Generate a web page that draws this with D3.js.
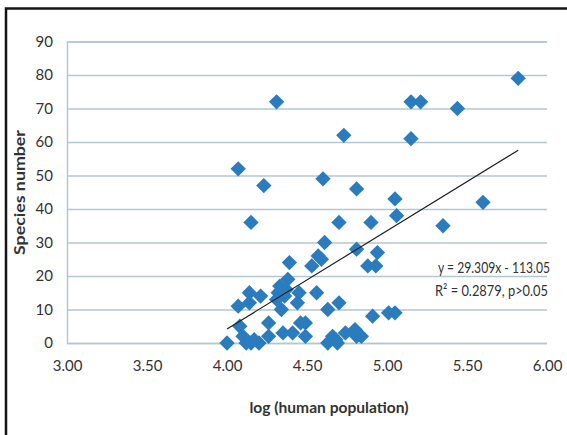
<!DOCTYPE html>
<html>
<head>
<meta charset="utf-8">
<script src="https://cdn.jsdelivr.net/npm/d3@7"></script>
<style>
  html, body { margin: 0; padding: 0; background: #fff; }
  svg { display: block; }
  text { font-family: Lato, "Open Sans", sans-serif; fill: #333; }
</style>
</head>
<body>
<svg id="chart" width="567" height="435"></svg>
<script>
// log10 of human population per site
const logPopulation = [
  4.00, 4.07, 4.07, 4.08, 4.10, 4.12, 4.15, 4.17, 4.20, 4.14,
  4.14, 4.15, 4.21, 4.23, 4.26, 4.26, 4.31, 4.32, 4.31, 4.33,
  4.34, 4.35, 4.36, 4.37, 4.38, 4.39, 4.41, 4.45, 4.44, 4.46,
  4.49, 4.49, 4.53, 4.56, 4.57, 4.59, 4.60, 4.61, 4.63, 4.63,
  4.66, 4.68, 4.69, 4.70, 4.70, 4.73, 4.74, 4.80, 4.81, 4.84,
  4.81, 4.81, 4.88, 4.90, 4.91, 4.93, 4.94, 5.01, 5.05, 5.05,
  5.06, 5.15, 5.15, 5.21, 5.35, 5.44, 5.60, 5.82
];
// number of species recorded at each site
const speciesNumber = [
  0, 11, 52, 5, 2, 0, 0, 1, 0, 15,
  12, 36, 14, 47, 6, 2, 72, 15, 13, 17,
  10, 3, 14, 16, 19, 24, 3, 15, 12, 6,
  6, 2, 23, 15, 26, 25, 49, 30, 10, 0,
  2, 1, 0, 12, 36, 62, 3, 4, 2, 2,
  28, 46, 23, 36, 8, 23, 27, 9, 9, 43,
  38, 61, 72, 72, 35, 70, 42, 79
];

const xTicks = [3.0, 3.5, 4.0, 4.5, 5.0, 5.5, 6.0];
const yTicks = [0, 10, 20, 30, 40, 50, 60, 70, 80, 90];

// linear trend line: y = slope * x + intercept
const slope = 29.309;
const intercept = -113.05;
const equationLines = ["y = 29.309x - 113.05", "R\u00b2 = 0.2879, p>0.05"];

const svg = d3.select("#chart");

const x = d3.scaleLinear().domain([3, 6]).range([67, 547]);
const y = d3.scaleLinear().domain([0, 90]).range([343, 41.5]);

const gridColor = "#b3c7cf";
const markerColor = "#2b7bbf";

// outer frame (left and top edges)
svg.append("path")
  .attr("d", "M6,435V8.5H567")
  .attr("fill", "none")
  .attr("stroke", "#151515")
  .attr("stroke-width", 2.5);

// horizontal gridlines + y axis labels
const yAxis = d3.axisLeft(y).tickValues(yTicks).tickSize(-(x(6) - x(3))).tickPadding(14).tickFormat(d3.format("d"));
const gy = svg.append("g").attr("transform", `translate(${x(3)},0)`).call(yAxis);
gy.select(".domain").attr("stroke", gridColor).attr("stroke-width", 1.5);
gy.selectAll(".tick line").attr("stroke", gridColor).attr("stroke-width", 1.5);
gy.selectAll(".tick text").attr("font-size", 15).attr("fill", "#333").style("font-family", "Lato, sans-serif");

// x axis labels (no axis line of its own; the 0 gridline serves as baseline)
const xAxis = d3.axisBottom(x).tickValues(xTicks).tickSize(0).tickPadding(17).tickFormat(d3.format(".2f"));
const gx = svg.append("g").attr("transform", `translate(0,${y(0)})`).call(xAxis);
gx.select(".domain").remove();
gx.selectAll(".tick text").attr("font-size", 15).attr("fill", "#333").style("font-family", "Lato, sans-serif");

// scatter markers: diamonds
const diamond = d3.symbol().type(d3.symbolDiamond2).size(150);
svg.append("g")
  .selectAll("path")
  .data(logPopulation.map((v, i) => [v, speciesNumber[i]]))
  .join("path")
  .attr("d", diamond)
  .attr("transform", d => `translate(${x(d[0])},${y(d[1])})`)
  .attr("fill", markerColor);

// trend line over the data range
const xMin = d3.min(logPopulation), xMax = d3.max(logPopulation);
svg.append("line")
  .attr("x1", x(xMin)).attr("y1", y(slope * xMin + intercept))
  .attr("x2", x(xMax)).attr("y2", y(slope * xMax + intercept))
  .attr("stroke", "#222")
  .attr("stroke-width", 1.2);

// regression equation
svg.append("text")
  .attr("x", 438).attr("y", 273)
  .attr("font-size", 15)
  .attr("textLength", 112).attr("lengthAdjust", "spacingAndGlyphs")
  .text(equationLines[0]);
svg.append("text")
  .attr("x", 435).attr("y", 296)
  .attr("font-size", 15)
  .attr("textLength", 113).attr("lengthAdjust", "spacingAndGlyphs")
  .text(equationLines[1]);

// axis titles
svg.append("text")
  .attr("transform", "translate(25,192.5) rotate(-90)")
  .attr("text-anchor", "middle")
  .attr("font-size", 15)
  .attr("font-weight", "bold")
  .attr("fill", "#111")
  .attr("textLength", 125).attr("lengthAdjust", "spacingAndGlyphs")
  .text("Species number");
svg.append("text")
  .attr("x", 329).attr("y", 413)
  .attr("text-anchor", "middle")
  .attr("font-size", 15)
  .attr("font-weight", "bold")
  .attr("fill", "#111")
  .attr("textLength", 159).attr("lengthAdjust", "spacingAndGlyphs")
  .text("log (human population)");
</script>
</body>
</html>
